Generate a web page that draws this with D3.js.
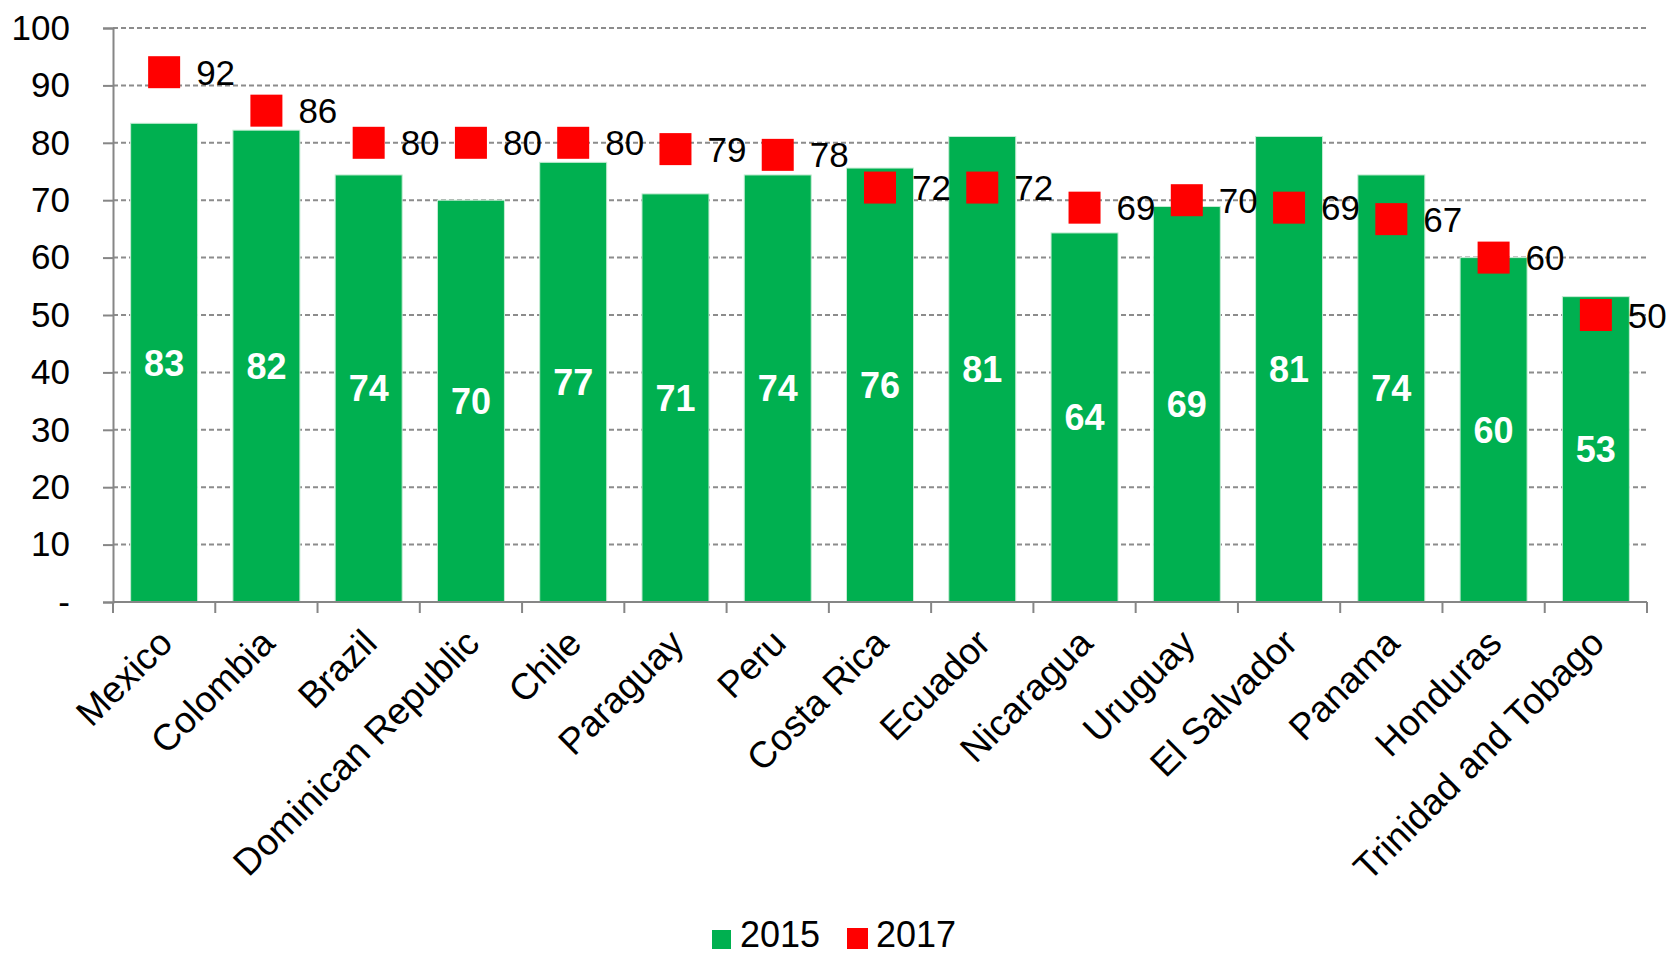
<!DOCTYPE html>
<html>
<head>
<meta charset="utf-8">
<script src="https://cdn.jsdelivr.net/npm/d3@7"></script>
<style>
  html, body { margin: 0; padding: 0; background: #ffffff; }
  svg { display: block; font-family: "Liberation Sans", Arial, sans-serif; }
</style>
</head>
<body>
<div id="chart"></div>
<script>
// data
var countries = ["Mexico", "Colombia", "Brazil", "Dominican Republic", "Chile", "Paraguay", "Peru",
  "Costa Rica", "Ecuador", "Nicaragua", "Uruguay", "El Salvador", "Panama", "Honduras", "Trinidad and Tobago"];
var values2015 = [83.4, 82.2, 74.4, 70.0, 76.6, 71.1, 74.4, 75.6, 81.1, 64.3, 68.9, 81.1, 74.4, 60.0, 53.2];
var values2017 = [92.3, 85.6, 80.0, 80.0, 80.0, 78.9, 77.9, 72.2, 72.2, 68.7, 70.0, 68.7, 66.7, 60.0, 50.0];
var yTicks = [0, 10, 20, 30, 40, 50, 60, 70, 80, 90, 100];
var seriesNames = ["2015", "2017"];

var W = 1672, H = 956;
var plotLeft = 113, plotRight = 1647, plotTop = 28, plotBottom = 602;
var green = "#00b050", red = "#ff0000", axisGrey = "#868686";
var fmt = d3.format(".0f");

var svg = d3.select("#chart").append("svg")
  .attr("width", W)
  .attr("height", H);

var x = d3.scaleBand()
  .domain(countries)
  .range([plotLeft, plotRight])
  .paddingInner(0.345)
  .paddingOuter(0.1725);

var y = d3.scaleLinear()
  .domain([0, 100])
  .range([plotBottom, plotTop]);

// gridlines
svg.append("g")
  .selectAll("line")
  .data(yTicks.filter(function(d) { return d > 0; }))
  .join("line")
  .attr("x1", plotLeft)
  .attr("x2", plotRight)
  .attr("y1", function(d) { return y(d); })
  .attr("y2", function(d) { return y(d); })
  .style("stroke", "#8c8c8c")
  .style("stroke-width", 2)
  .style("stroke-dasharray", "5,3");

// y axis
var yAxis = d3.axisLeft(y)
  .tickValues(yTicks)
  .tickSize(10)
  .tickPadding(33)
  .tickFormat(function(d) { return d === 0 ? "-" : d; });

var gy = svg.append("g")
  .attr("transform", "translate(" + plotLeft + ",0)")
  .call(yAxis);
gy.select(".domain").style("stroke", axisGrey).style("stroke-width", 2);
gy.selectAll(".tick line").style("stroke", axisGrey).style("stroke-width", 2);
gy.selectAll(".tick text")
  .style("font-size", "35px")
  .style("fill", "#000")
  .style("font-family", "'Liberation Sans', Arial, sans-serif");

// bars 2015
svg.append("g")
  .selectAll("rect")
  .data(values2015)
  .join("rect")
  .attr("x", function(d, i) { return x(countries[i]); })
  .attr("y", function(d) { return y(d); })
  .attr("width", x.bandwidth())
  .attr("height", function(d) { return y(0) - y(d); })
  .style("fill", green)
  .style("stroke", "#c6ecd4")
  .style("stroke-width", 1);

// x axis with ticks between categories
var boundaries = countries.map(function(c) { return x(c) - x.step() * x.paddingInner() / 2; });
boundaries.push(plotRight);

var gx = svg.append("g");
gx.append("line")
  .attr("x1", plotLeft).attr("x2", plotRight)
  .attr("y1", plotBottom).attr("y2", plotBottom)
  .style("stroke", axisGrey).style("stroke-width", 2);
gx.selectAll("line.tick")
  .data(boundaries)
  .join("line")
  .attr("class", "tick")
  .attr("x1", function(d) { return d; })
  .attr("x2", function(d) { return d; })
  .attr("y1", plotBottom)
  .attr("y2", plotBottom + 11)
  .style("stroke", axisGrey).style("stroke-width", 2);

// category labels, rotated
gx.selectAll("text")
  .data(countries)
  .join("text")
  .attr("transform", function(d) {
    return "translate(" + (x(d) + x.bandwidth() / 2 - 8) + "," + (plotBottom + 25) + ") rotate(-45)";
  })
  .attr("text-anchor", "end")
  .attr("dy", "0.7em")
  .style("font-size", "37px")
  .text(function(d) { return d; });

// value labels inside bars
svg.append("g")
  .selectAll("text")
  .data(values2015)
  .join("text")
  .attr("x", function(d, i) { return x(countries[i]) + x.bandwidth() / 2; })
  .attr("y", function(d) { return (y(d) + y(0)) / 2; })
  .attr("text-anchor", "middle")
  .attr("dy", "0.36em")
  .style("font-size", "36px")
  .style("font-weight", "bold")
  .style("fill", "#ffffff")
  .text(function(d) { return fmt(d); });

// 2017 markers
var mk = 32;
svg.append("g")
  .selectAll("rect")
  .data(values2017)
  .join("rect")
  .attr("x", function(d, i) { return x(countries[i]) + x.bandwidth() / 2 - mk / 2; })
  .attr("y", function(d) { return y(d) - mk / 2; })
  .attr("width", mk)
  .attr("height", mk)
  .style("fill", red);

svg.append("g")
  .selectAll("text")
  .data(values2017)
  .join("text")
  .attr("x", function(d, i) { return x(countries[i]) + x.bandwidth() / 2 + mk / 2 + 16; })
  .attr("y", function(d) { return y(d); })
  .attr("dy", "0.36em")
  .style("font-size", "35px")
  .style("fill", "#000")
  .text(function(d) { return fmt(d); });

// legend
var legend = svg.append("g").attr("transform", "translate(712,947)");
var legendItems = [
  { name: seriesNames[0], color: green, x: 0, size: 19 },
  { name: seriesNames[1], color: red, x: 135, size: 21 }
];
legendItems.forEach(function(it) {
  legend.append("rect")
    .attr("x", it.x)
    .attr("y", -it.size + 2)
    .attr("width", it.size)
    .attr("height", it.size)
    .style("fill", it.color);
  legend.append("text")
    .attr("x", it.x + (it.size === 19 ? 28 : 29))
    .attr("y", 0)
    .style("font-size", "36px")
    .style("fill", "#000")
    .text(it.name);
});
</script>
</body>
</html>
